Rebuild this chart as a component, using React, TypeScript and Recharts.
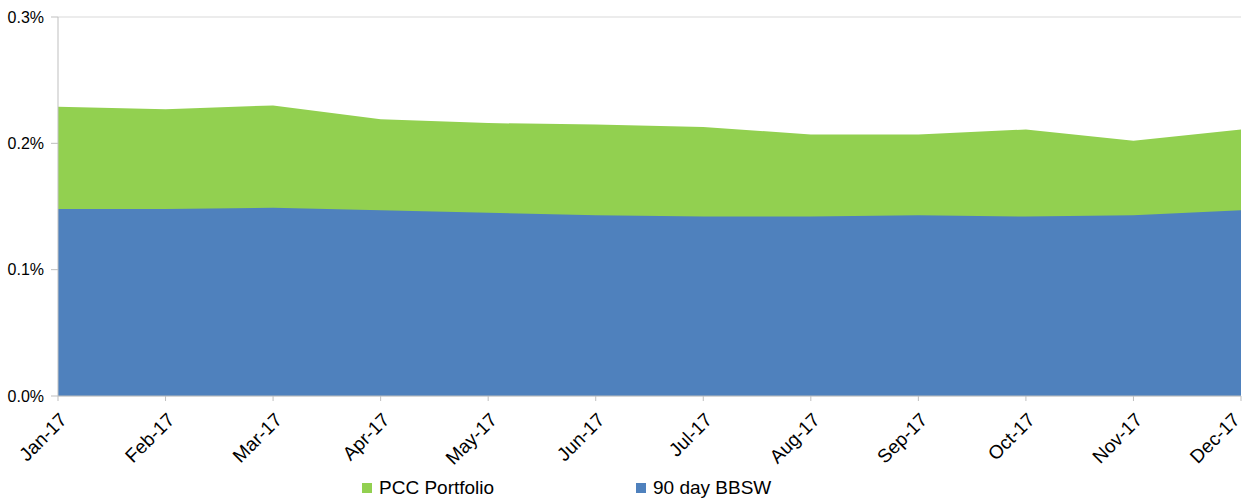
import React from 'react';
import { AreaChart, Area, XAxis, YAxis, CartesianGrid, Legend } from 'recharts';

const months = ['Jan-17', 'Feb-17', 'Mar-17', 'Apr-17', 'May-17', 'Jun-17', 'Jul-17', 'Aug-17', 'Sep-17', 'Oct-17', 'Nov-17', 'Dec-17'];
const pccPortfolio = [0.229, 0.227, 0.230, 0.219, 0.216, 0.215, 0.213, 0.207, 0.207, 0.211, 0.202, 0.211];
const bbsw90 = [0.148, 0.148, 0.149, 0.147, 0.145, 0.143, 0.142, 0.142, 0.143, 0.142, 0.143, 0.147];
const yTicks = [0, 0.1, 0.2, 0.3];
const legendOrder = ['PCC Portfolio', '90 day BBSW'];

const chartData = months.map((m, i) => ({
  month: m,
  pcc: pccPortfolio[i],
  bbsw: bbsw90[i]
}));

const FONT = '"Liberation Sans", Arial, sans-serif';

// last label is nudged left so its box stays inside the page
const MonthTick = ({ x, y, payload, index }: any) => {
  const shift = index === months.length - 1 ? -7 : 3;
  return (
    <g transform={`translate(${x + shift},${y + 11})`}>
      <text x={0} y={0} dy={10} textAnchor="end" transform="rotate(-45)" fill="#000" fontSize={19} fontFamily={FONT} style={{ fontSize: 19 }}>
        {payload.value}
      </text>
    </g>
  );
};

const LegendContent = ({ payload }: any) => {
  const items = [...(payload || [])].sort((a, b) => legendOrder.indexOf(a.value) - legendOrder.indexOf(b.value));
  return (
    <div style={{ display: 'flex', marginLeft: 362, fontFamily: FONT, fontSize: 19, color: '#000', lineHeight: '24px' }}>
      {items.map((entry: any, index: number) => (
        <div key={index} style={{ width: 274, display: 'flex', alignItems: 'center' }}>
          <span style={{ width: 10, height: 10, background: entry.color, marginRight: 7, display: 'inline-block' }} />
          <span>{entry.value}</span>
        </div>
      ))}
    </div>
  );
};

const App = () => {
  return (
    <div style={{ position: 'absolute', left: 0, top: 0 }}>
      <AreaChart width={1248} height={500} data={chartData} margin={{ top: 17, right: 7, left: 0, bottom: 0 }}>
        <CartesianGrid horizontal vertical={false} stroke="#d9d9d9" />
        <XAxis
          dataKey="month"
          tick={<MonthTick />}
          tickLine={{ stroke: '#bfbfbf' }}
          axisLine={{ stroke: '#bfbfbf' }}
          tickSize={5}
          height={80}
          interval={0}
        />
        <YAxis
          domain={[0, 0.3]}
          ticks={yTicks}
          tickFormatter={(v) => v.toFixed(1) + '%'}
          tick={{ fill: '#000', fontSize: 16, fontFamily: FONT }}
          tickLine={{ stroke: '#bfbfbf' }}
          axisLine={{ stroke: '#bfbfbf' }}
          tickSize={7}
          tickMargin={7}
          width={58}
        />
        <Legend verticalAlign="bottom" height={24} content={<LegendContent />} />
        <Area type="linear" dataKey="pcc" name="PCC Portfolio" fill="#92D050" fillOpacity={1} stroke="none" isAnimationActive={false} />
        <Area type="linear" dataKey="bbsw" name="90 day BBSW" fill="#4F81BD" fillOpacity={1} stroke="none" isAnimationActive={false} />
      </AreaChart>
    </div>
  );
};

export default App;
